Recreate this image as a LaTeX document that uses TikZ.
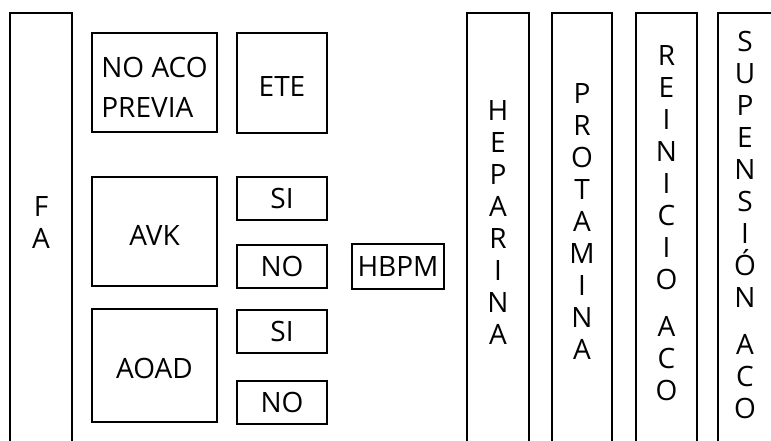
\documentclass[tikz,border=0pt]{standalone}
\usepackage{fontspec}
\setmainfont{Open Sans}

\tikzset{
  tbox/.style={draw, line width=2pt, inner sep=0pt},
  colframe/.style={draw, line width=2pt, anchor=north, minimum height=470pt, inner sep=0pt},
  letters/.style={align=center, font=\fontsize{28}{32}\selectfont},
}

\begin{document}
\begin{tikzpicture}[x=1pt, y=-1pt, font=\fontsize{28}{34}\selectfont]
  \useasboundingbox (0,0) rectangle (771,441);
  \clip (0,0) rectangle (771,441);
  % Columns, open at the bottom
  \node[colframe, minimum width=62pt] (fa) at (41,12) {};
  \node[colframe, minimum width=62pt] (hep) at (498,12) {};
  \node[colframe, minimum width=60pt] (prot) at (582,12) {};
  \node[colframe, minimum width=61pt] (rein) at (666.5,12) {};
  \node[colframe, minimum width=54pt] (susp) at (745,12) {};
  % Column texts
  \node[letters] (fatext) at (41,223) {F\\A};
  \node[letters] (heptext) at (498,223) {H\\E\\P\\A\\R\\I\\N\\A};
  \node[letters] (prottext) at (582,222) {P\\R\\O\\T\\A\\M\\I\\N\\A};
  \node[letters] (reintext) at (666.5,223) {R\\E\\I\\N\\I\\C\\I\\O\\[15pt]A\\C\\O};
  \node[letters] (susptext) at (745,225) {S\\U\\P\\E\\N\\S\\I\\Ó\\N\\[15pt]A\\C\\O};
  % Previous anticoagulation
  \node[tbox, minimum width=125pt, minimum height=99pt, align=left, text height=70pt,
        font=\fontsize{28}{40}\selectfont] (noaco) at (154.5,82.5) {NO ACO\\PREVIA};
  \node[tbox, minimum width=90pt, minimum height=100pt, text height=28pt] (ete) at (282,83) {ETE};
  % AVK
  \node[tbox, minimum width=125pt, minimum height=109pt, text height=28pt] (avk) at (154.5,231.5) {AVK};
  \node[tbox, minimum width=90pt, minimum height=43pt] (avksi) at (282,198.5) {SI};
  \node[tbox, minimum width=90pt, minimum height=43pt] (avkno) at (282,266.5) {NO};
  \node[tbox, minimum width=92pt, minimum height=45pt] (hbpm) at (398,266.5) {HBPM};
  % AOAD
  \node[tbox, minimum width=125pt, minimum height=113pt, text height=26pt] (aoad) at (154.5,365.5) {AOAD};
  \node[tbox, minimum width=90pt, minimum height=43pt] (aoadsi) at (282,331.5) {SI};
  \node[tbox, minimum width=90pt, minimum height=43pt] (aoadno) at (282,402.5) {NO};
\end{tikzpicture}
\end{document}
